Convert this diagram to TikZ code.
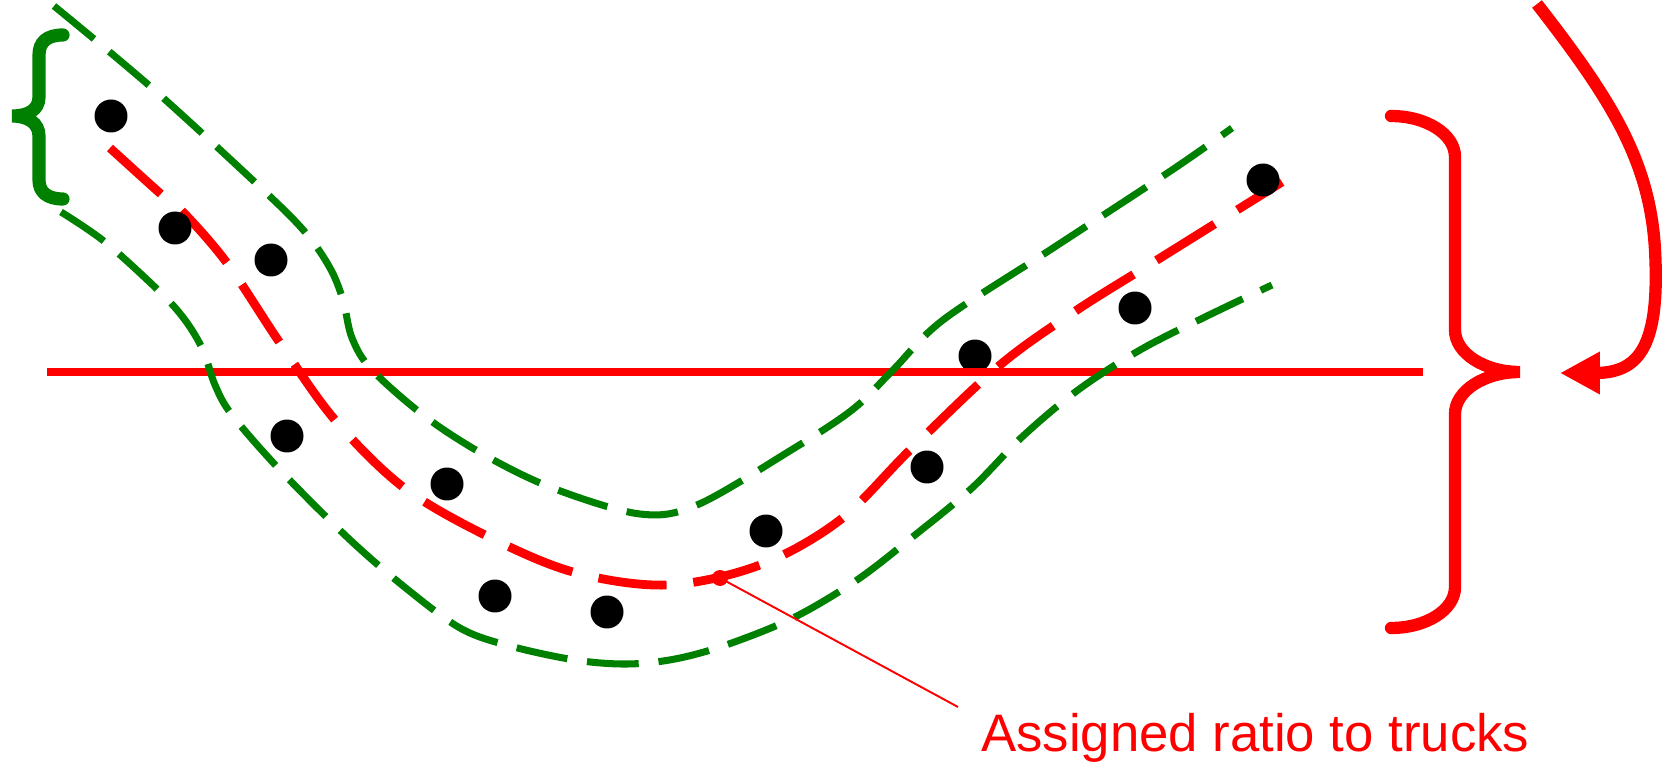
\documentclass[tikz,border=0pt]{standalone}
\usepackage{fontspec}
\setmainfont{Liberation Sans}
\usetikzlibrary{arrows.meta}
\definecolor{dgreen}{RGB}{0,128,0}
\definecolor{pred}{RGB}{255,0,0}
\begin{document}
\begin{tikzpicture}[x=0.02cm,y=-0.02cm,
  gdash/.style={draw=dgreen,line width=4pt,dash pattern=on 29.5pt off 11.3pt},
  rdash/.style={draw=pred,line width=5pt,dash pattern=on 39pt off 15.3pt},
  dot/.style={circle,fill=black,inner sep=0pt,minimum size=0.66cm},
  axisline/.style={draw=pred,line width=4.5pt},
  rbrace/.style={draw=pred,line width=7pt,line cap=round},
  gbrace/.style={draw=dgreen,line width=7.5pt,line cap=round},
  bigarrow/.style={draw=pred,line width=7pt,-{Triangle[length=22.7pt,width=22.7pt]}},
  thinline/.style={draw=pred,line width=1.1pt},
  label/.style={text=pred,font=\fontsize{30pt}{34pt}\selectfont,inner sep=0pt,anchor=base west}]
\useasboundingbox (0,0) rectangle (1669,766);

% red dashed middle curve
\draw[rdash] plot[smooth,tension=0.55] coordinates {(110,148) (162,195) (183,212) (227,263) (280,343) (335,420) (403,487) (485,535) (573,572) (667,585) (760,565) (840,520) (910,450) (1000,365) (1077,310) (1157,260) (1282,182)};

% dots
\node[dot] (d1) at (111,116) {};
\node[dot] (d2) at (175,228) {};
\node[dot] (d3) at (271,260) {};
\node[dot] (d4) at (287,436) {};
\node[dot] (d5) at (447,484) {};
\node[dot] (d6) at (495,596) {};
\node[dot] (d7) at (607,612) {};
\node[dot] (d8) at (766,531) {};
\node[dot] (d9) at (927,467) {};
\node[dot] (d10) at (975,356) {};
\node[dot] (d11) at (1135,308) {};
\node[dot] (d12) at (1263,180) {};

% horizontal red line
\draw[axisline] (47,372) -- (1423,372);

% green dashed upper curve
\draw[gdash] plot[smooth,tension=0.55] coordinates {(54,6) (152,88) (260,187) (305,232) (330,268) (343,300) (352,338) (372,370) (427,418) (488,457) (555,489) (640,514) (697,505) (788,452) (852,410) (893,370) (943,320) (1050,250) (1172,170) (1232,128)};

% green dashed lower curve
\draw[gdash] plot[smooth,tension=0.55] coordinates {(61,212) (105,242) (160,292) (185,320) (203,350) (215,385) (232,415) (280,470) (347,537) (402,585) (460,628) (510,646) (575,660) (627,664) (675,659) (726,645) (793,618) (857,580) (915,535) (972,488) (1022,437) (1078,390) (1140,350) (1205,317) (1272,285)};

% green brace
\draw[gbrace] (63,35) .. controls (47,35) and (39,42) .. (39,55) -- (39,97)
  .. controls (39,110) and (28,116) .. (12,116)
  .. controls (28,116) and (39,123) .. (39,136) -- (39,180)
  .. controls (39,192) and (47,199) .. (63,199);

% red brace
\draw[rbrace] (1391,116) .. controls (1426,116) and (1455,134) .. (1455,157) -- (1455,330)
  .. controls (1455,353) and (1484,372) .. (1520,372)
  .. controls (1484,372) and (1455,391) .. (1455,414) -- (1455,587)
  .. controls (1455,610) and (1426,628) .. (1391,628);

% red curved arrow
\coordinate (astart) at (1537,4);
\coordinate (atip) at (1560,373);
\draw[bigarrow] (astart) .. controls (1610,98) and (1650,160) .. (1655,250)
  .. controls (1660,345) and (1640,373) .. (1595,373) -- (atip);

% annotation
\node[label] (lab) at (981,751) {Assigned ratio to trucks};
\coordinate (mk) at (720,578);
\coordinate (lend) at (958,707);
\fill[pred] (mk) circle (8);
\draw[thinline] (mk) -- (lend);
\end{tikzpicture}
\end{document}
